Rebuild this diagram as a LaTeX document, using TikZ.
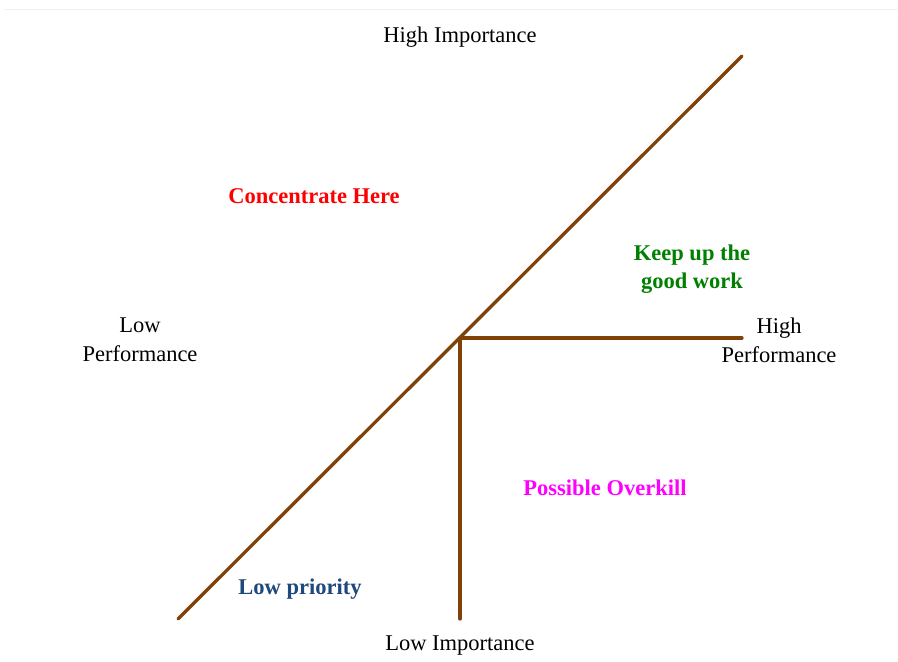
\documentclass[tikz,border=0pt]{standalone}
\usepackage{fontspec}
\setmainfont{Liberation Serif}
\definecolor{axisbrown}{RGB}{128,66,8}
\definecolor{lpblue}{RGB}{31,73,125}
\definecolor{kgreen}{RGB}{0,128,0}
\definecolor{kmagenta}{RGB}{255,0,255}
\definecolor{kred}{RGB}{255,0,0}
\definecolor{faint}{RGB}{238,240,242}
\begin{document}
\begin{tikzpicture}[x=1pt,y=-1pt,
  axis/.style={draw=axisbrown,line width=3.3pt,line cap=round},
  lbl/.style={font=\fontsize{22.5}{29}\selectfont,align=center,inner sep=0pt},
  qlbl/.style={lbl,font=\fontsize{22.5}{28}\selectfont\bfseries}]
\useasboundingbox (0,0) rectangle (898,662);
\fill[white] (0,0) rectangle (898,662);
\coordinate (fl) at (5,9);
\coordinate (fr) at (898,9);
\draw[faint,line width=1pt] (fl) -- (fr);
\coordinate (c) at (460,338);
\coordinate (tr) at (742,56);
\coordinate (bl) at (178,619);
\coordinate (r) at (742,338);
\coordinate (b) at (460,619);
\draw[axis] (bl) -- (tr);
\draw[axis] (c) -- (r);
\draw[axis] (c) -- (b);
\node[lbl] (hi) at (460,37) {High Importance};
\node[lbl] (li) at (460,646) {Low Importance};
\node[lbl] (lp) at (140,340) {Low\\Performance};
\node[lbl] (hp) at (779,340) {High\\Performance};
\node[qlbl,text=kred] (ch) at (314,196) {Concentrate Here};
\node[qlbl,text=kgreen] (kg) at (692,269) {Keep up the\\good work};
\node[qlbl,text=kmagenta] (po) at (605,488) {Possible Overkill};
\node[qlbl,text=lpblue] (lpr) at (300,589) {Low priority};
\end{tikzpicture}
\end{document}
